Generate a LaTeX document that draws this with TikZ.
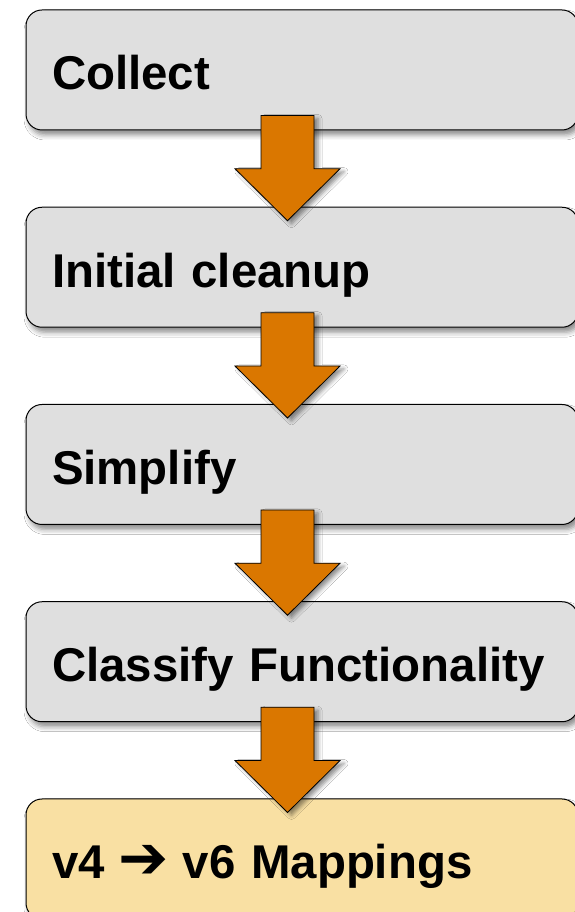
\documentclass[tikz,border=0pt]{standalone}
\usepackage{fontspec}
\setmainfont{Liberation Sans}
\newfontfamily\arrowfont{DejaVu Sans}
\usetikzlibrary{positioning,calc,shadows.blur}

\definecolor{stagegray}{HTML}{DFDFDF}
\definecolor{stageyellow}{HTML}{F9E0A3}
\definecolor{flowrange}{HTML}{DA7700}

\tikzset{
	stage/.style={draw=black,line width=1pt,fill=stagegray,rounded corners=16pt,
		minimum width=552pt,minimum height=120pt,text width=500pt,inner xsep=26pt,
		align=left,text height=45pt,text depth=5pt,
		font=\fontsize{47.4}{56}\selectfont\bfseries,
		blur shadow={shadow xshift=3pt,shadow yshift=-5pt,shadow blur radius=5pt,shadow opacity=45}},
	flow/.style={draw=black,line width=.8pt,fill=flowrange,
		blur shadow={shadow xshift=4pt,shadow yshift=-3pt,shadow blur radius=4pt,shadow opacity=45}}
}

\begin{document}
\begin{tikzpicture}[x=1pt,y=1pt]
	\useasboundingbox (0,0) rectangle (575,912);
	\fill[white] (0,0) rectangle (575,912);

	% the five steps
	\node[stage] (collect) at (302,842) {Collect};
	\node[stage,below=76.25pt of collect] (cleanup) {Initial cleanup};
	\node[stage,below=76.25pt of cleanup] (simplify) {Simplify};
	\node[stage,below=76.25pt of simplify] (classify) {Classify Functionality};
	\node[stage,fill=stageyellow,below=76.25pt of classify] (mappings)
		{v4\hspace{16pt}\makebox[46pt]{\raisebox{0pt}{\arrowfont\bfseries\fontsize{60}{60}\selectfont ➔}}\hspace{16pt}v6 Mappings};

	% block arrows between them
	\foreach \a/\b in {collect/cleanup,cleanup/simplify,simplify/classify,classify/mappings}
	{
		\draw[flow] let \p1=($(\a.south)+(-14.5,15)$), \p2=($(\b.north)+(-14.5,-14)$) in
			(\x1-26.5,\y1) -- (\x1+26.5,\y1) -- (\x1+26.5,\y2+52) -- (\x1+52.5,\y2+52)
			-- (\x2,\y2) -- (\x1-52.5,\y2+52) -- (\x1-26.5,\y2+52) -- cycle;
	}
\end{tikzpicture}
\end{document}
